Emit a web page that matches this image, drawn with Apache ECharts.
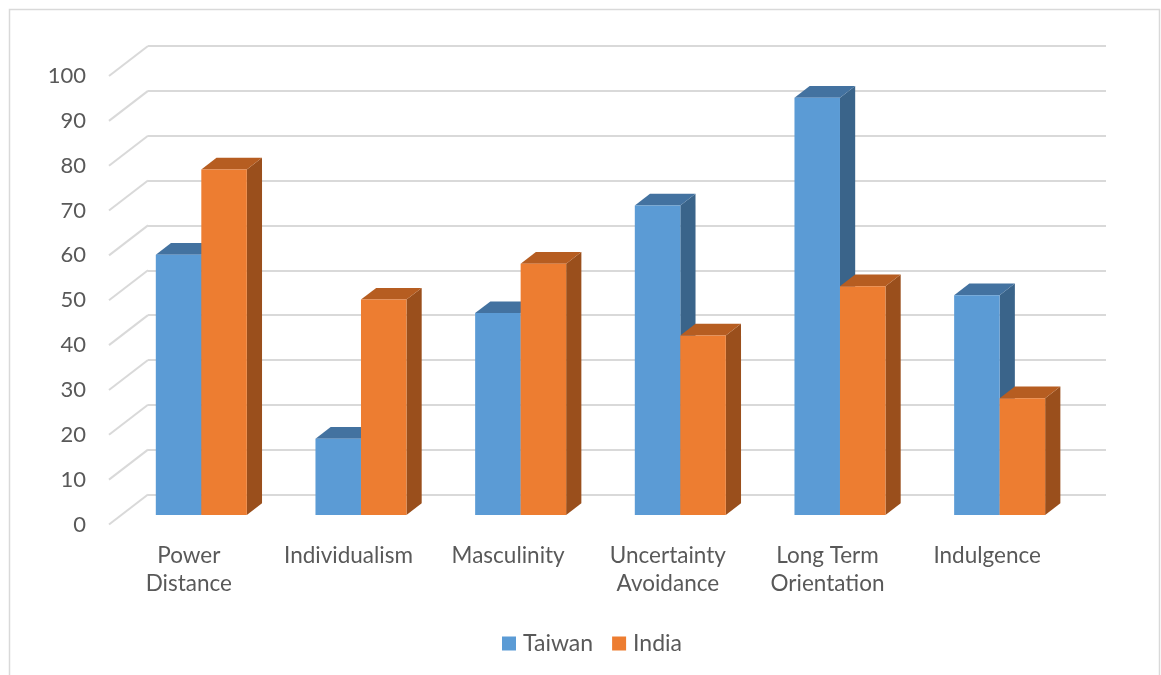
<!DOCTYPE html>
<html>
<head>
<meta charset="utf-8">
<title>Hofstede dimensions: Taiwan vs India</title>
<script src="https://cdn.jsdelivr.net/npm/echarts@6/dist/echarts.min.js"></script>
<style>
  html, body { margin: 0; padding: 0; background: #ffffff; }
  #chart { width: 1161px; height: 675px; }
</style>
</head>
<body>
<div id="chart"></div>
<script>
// Cultural dimension scores
const categories = ['Power\nDistance', 'Individualism', 'Masculinity', 'Uncertainty\nAvoidance', 'Long Term\nOrientation', 'Indulgence'];
const taiwan = [58, 17, 45, 69, 93, 49];
const india  = [77, 48, 56, 40, 51, 26];
const seriesNames = ['Taiwan', 'India'];
const yTicks = [0, 10, 20, 30, 40, 50, 60, 70, 80, 90, 100];

// Oblique depth of the floor (back wall -> front edge), in pixels
const DEPTH = [-39, 30];
const FRONT_F = 0.68;   // bar front face, as a fraction of the floor depth
const BACK_F = 0.29;    // bar back face
const BAR_FRAC = 0.285; // bar width relative to a category band

const faceColors = [
  { front: '#5B9BD5', top: '#4372A0', side: '#3A648A' },
  { front: '#ED7D31', top: '#B65D21', side: '#9A4F1C' }
];

// Back wall plot area; the front plane is the same box shifted by DEPTH
const BACK = { left: 148, right: 55, top: 46, bottom: 180.5 };
const FRONT = {
  left: BACK.left + DEPTH[0], right: BACK.right - DEPTH[0],
  top: BACK.top + DEPTH[1], bottom: BACK.bottom - DEPTH[1]
};

function makeBarRenderer(s) {
  return function (params, api) {
    const cat = api.value(0);
    const v = api.value(1);
    const pTop = api.coord([cat, v]);
    const pBase = api.coord([cat, 0]);
    const band = api.size([1, 0])[0];
    const w = band * BAR_FRAC;
    const xl = pTop[0] + (s === 0 ? -w : 0);
    const xr = xl + w;
    const yT = pTop[1], yB = pBase[1];
    const fx = DEPTH[0] * FRONT_F, fy = DEPTH[1] * FRONT_F;
    const bx = DEPTH[0] * BACK_F, by = DEPTH[1] * BACK_F;
    const c = faceColors[s];
    return {
      type: 'group',
      children: [
        { type: 'polygon', shape: { points: [[xr + fx, yT + fy], [xr + bx, yT + by], [xr + bx, yB + by], [xr + fx, yB + fy]] },
          style: { fill: c.side } },
        { type: 'polygon', shape: { points: [[xl + fx, yT + fy], [xr + fx, yT + fy], [xr + bx, yT + by], [xl + bx, yT + by]] },
          style: { fill: c.top } },
        { type: 'rect', shape: { x: xl + fx, y: yT + fy, width: w, height: yB - yT },
          style: { fill: c.front } }
      ]
    };
  };
}

function renderFloorLine(params, api) {
  const y = api.coord([0, api.value(0)])[1];
  const x0 = params.coordSys.x;
  return {
    type: 'line',
    shape: { x1: x0, y1: y, x2: x0 + DEPTH[0], y2: y + DEPTH[1] },
    style: { stroke: '#D9D9D9', lineWidth: 2 }
  };
}

const chart = echarts.init(document.getElementById('chart'), null, { renderer: 'canvas' });

const textColor = '#595959';
const fontFamily = 'Lato, "Open Sans", sans-serif';
const yMin = yTicks[0], yMax = yTicks[yTicks.length - 1], yStep = yTicks[1] - yTicks[0];

chart.setOption({
  animation: false,
  backgroundColor: '#ffffff',
  textStyle: { fontFamily: fontFamily },
  graphic: [{
    type: 'rect',
    shape: { x: 9.5, y: 9.5, width: 1150, height: 700 },
    style: { fill: null, stroke: '#D9D9D9', lineWidth: 1.5 },
    silent: true
  }],
  grid: [
    Object.assign({ outerBoundsMode: 'none' }, BACK),
    Object.assign({ outerBoundsMode: 'none' }, FRONT)
  ],
  legend: {
    data: seriesNames,
    top: 627,
    left: 497,
    icon: 'rect',
    itemWidth: 14,
    itemHeight: 14,
    itemGap: 19,
    textStyle: { color: textColor, fontSize: 23, fontFamily: fontFamily, padding: [0, 0, 0, 2] }
  },
  xAxis: [
    {
      type: 'category',
      gridIndex: 0,
      data: categories,
      axisLine: { show: false },
      axisTick: { show: false },
      axisLabel: { show: false }
    },
    {
      // front edge of the floor carries the category names
      type: 'category',
      gridIndex: 1,
      data: categories,
      axisLine: { show: false },
      axisTick: { show: false },
      splitLine: { show: false },
      axisLabel: {
        color: textColor,
        fontSize: 22.5,
        lineHeight: 28.5,
        margin: 16.5,
        align: 'center',
        interval: 0
      }
    }
  ],
  yAxis: [
    {
      type: 'value',
      gridIndex: 0,
      min: yMin, max: yMax, interval: yStep,
      axisLine: { show: false },
      axisTick: { show: false },
      axisLabel: { show: false },
      splitLine: { lineStyle: { color: '#D9D9D9', width: 2 } }
    },
    {
      // front edge of the floor carries the value labels
      type: 'value',
      gridIndex: 1,
      min: yMin, max: yMax, interval: yStep,
      axisLine: { show: false },
      axisTick: { show: false },
      splitLine: { show: false },
      axisLabel: {
        color: textColor,
        fontSize: 22,
        margin: 23,
        showMinLabel: true,
        showMaxLabel: true
      }
    }
  ],
  series: [
    {
      name: 'floor',
      type: 'custom',
      xAxisIndex: 0, yAxisIndex: 0,
      renderItem: renderFloorLine,
      data: yTicks.map(v => [v]),
      encode: { y: 0 },
      silent: true,
      z: 1
    },
    {
      name: seriesNames[0],
      type: 'custom',
      xAxisIndex: 0, yAxisIndex: 0,
      renderItem: makeBarRenderer(0),
      itemStyle: { color: faceColors[0].front },
      data: taiwan.map((v, i) => [i, v]),
      encode: { x: 0, y: 1 },
      z: 2
    },
    {
      name: seriesNames[1],
      type: 'custom',
      xAxisIndex: 0, yAxisIndex: 0,
      renderItem: makeBarRenderer(1),
      itemStyle: { color: faceColors[1].front },
      data: india.map((v, i) => [i, v]),
      encode: { x: 0, y: 1 },
      z: 2
    }
  ]
});
</script>
</body>
</html>
